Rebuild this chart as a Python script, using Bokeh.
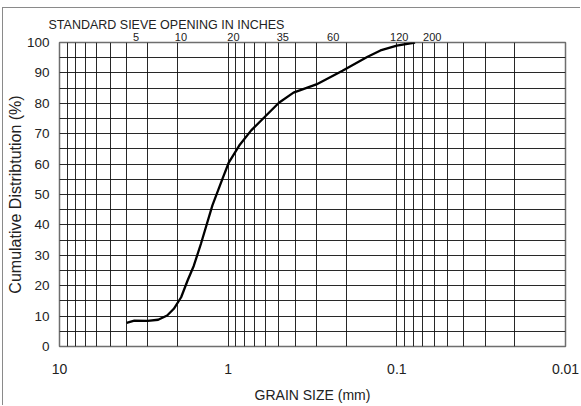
from bokeh.plotting import figure
from bokeh.models import (Range1d, FixedTicker, CustomJSTickFormatter, LogAxis, Title)
from bokeh.embed import file_html
from bokeh.resources import INLINE

# ---- data ----
grain_mm = [4.0, 3.6, 3.0, 2.6, 2.3, 2.1, 1.9, 1.74, 1.6, 1.45, 1.24, 1.08, 0.99,
            0.86, 0.73, 0.61, 0.50, 0.41, 0.30, 0.21, 0.15, 0.125, 0.10, 0.078]
passing_pct = [7.8, 8.5, 8.4, 8.8, 10.2, 12.4, 16.2, 21.7, 26.5, 33.8, 46.4, 55.2, 60.6,
               66.1, 71.1, 75.4, 80.2, 83.5, 86.2, 90.7, 95.2, 97.4, 99.0, 100.0]

x_ticks = [10, 1, 0.1, 0.01]
y_ticks = [0, 10, 20, 30, 40, 50, 60, 70, 80, 90, 100]
y_grid = list(range(0, 101, 5))
x_grid = [m * 10.0 ** e for e in (-2, -1, 0) for m in range(1, 10)] + [10]

sieve_labels = ["5", "10", "20", "35", "60", "120", "200"]
sieve_label_pos_mm = [3.52, 1.905, 0.931, 0.474, 0.2385, 0.0968, 0.0617]

FONT = "Liberation Sans, Arial, sans-serif"
TXT = "#222222"

p = figure(width=578, height=398, x_axis_type="log",
           x_range=Range1d(10, 0.01), y_range=Range1d(0, 100),
           output_backend="svg", toolbar_location=None,
           min_border_left=53, min_border_right=16, min_border_top=34, min_border_bottom=60)
p.margin = (7, 0, 0, 2)
p.styles = {"border-top": "1px solid #8a8a8a", "border-left": "1px solid #8a8a8a"}
p.background_fill_color = "white"
p.border_fill_color = "white"
p.outline_line_color = "#6e6e6e"
p.outline_line_width = 1.5

# grids
p.xgrid.ticker = FixedTicker(ticks=x_grid)
p.ygrid.ticker = FixedTicker(ticks=y_grid)
for g in (p.xgrid[0], p.ygrid[0]):
    g.grid_line_color = "#111111"
    g.grid_line_width = 1
    g.grid_line_alpha = 0.9

# bottom axis
xa = p.xaxis[0]
xa.ticker = FixedTicker(ticks=x_ticks)
xa.formatter = CustomJSTickFormatter(code="return String(tick);")
xa.axis_label = "GRAIN SIZE (mm)"
xa.major_label_text_font = FONT
xa.major_label_text_font_size = "14px"
xa.major_label_text_color = TXT
xa.axis_label_text_font = FONT
xa.axis_label_text_font_size = "14px"
xa.axis_label_text_font_style = "normal"
xa.axis_label_text_color = TXT
xa.major_label_standoff = 17
xa.axis_label_standoff = 10

# left axis
ya = p.yaxis[0]
ya.ticker = FixedTicker(ticks=y_ticks)
ya.axis_label = "Cumulative Distribtution (%)"
ya.major_label_text_font = FONT
ya.major_label_text_font_size = "13.5px"
ya.major_label_text_color = TXT
ya.axis_label_text_font = FONT
ya.axis_label_text_font_size = "16px"
ya.axis_label_text_font_style = "normal"
ya.axis_label_text_color = TXT
ya.major_label_standoff = 10
ya.axis_label_standoff = 0

for ax in (xa, ya):
    ax.axis_line_color = None
    ax.major_tick_line_color = None
    ax.minor_tick_line_color = None
    ax.major_tick_out = 0
    ax.major_tick_in = 0
    ax.minor_tick_out = 0
    ax.minor_tick_in = 0

# top axis with sieve numbers
top = LogAxis(ticker=FixedTicker(ticks=sieve_label_pos_mm),
              formatter=CustomJSTickFormatter(
                  args=dict(pos=sieve_label_pos_mm, lab=sieve_labels),
                  code="for (let i = 0; i < pos.length; i++) { if (Math.abs(pos[i] - tick) <= 1e-6 * pos[i]) return lab[i]; } return '';"))
top.axis_line_color = None
top.major_tick_line_color = None
top.minor_tick_line_color = None
top.major_tick_out = 0
top.major_tick_in = 0
top.minor_tick_out = 0
top.minor_tick_in = 0
top.major_label_standoff = 2
top.major_label_text_font = FONT
top.major_label_text_font_size = "11px"
top.major_label_text_color = TXT
p.add_layout(top, "above")

p.title = Title(text="STANDARD SIEVE OPENING IN INCHES", align="left", offset=-11,
                text_font=FONT, text_font_size="12.5px", text_font_style="normal",
                text_color=TXT, standoff=-4)

p.line(grain_mm, passing_pct, line_color="black", line_width=2.3)

open("out.html", "w").write(file_html(p, INLINE))
